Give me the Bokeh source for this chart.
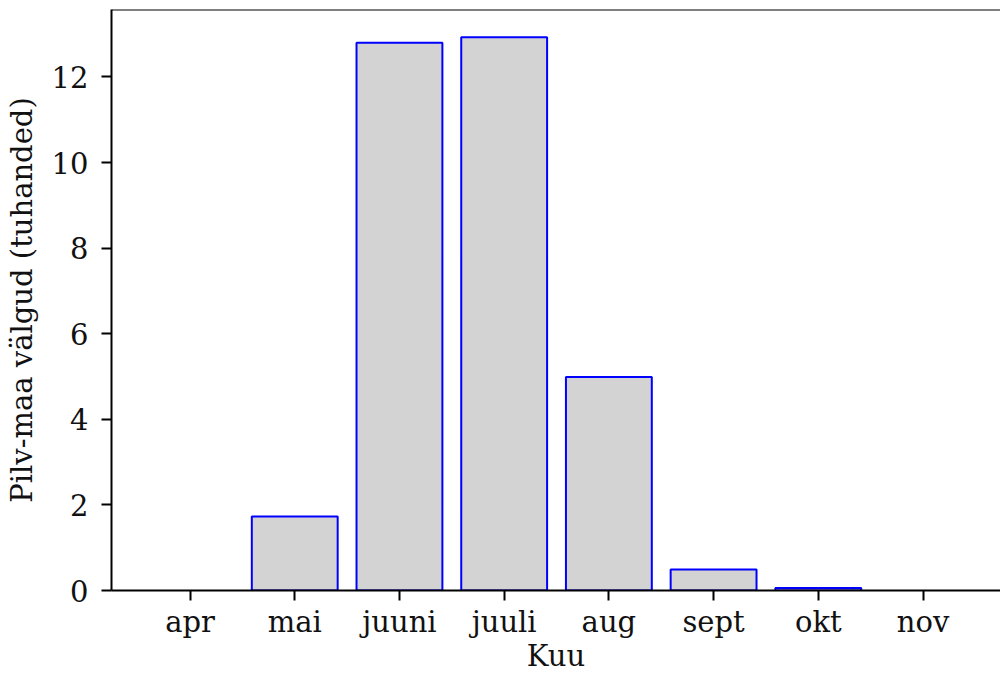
from bokeh.plotting import figure
from bokeh.models import Range1d, FixedTicker, Span, ColumnDataSource
from bokeh.embed import file_html
from bokeh.resources import INLINE

months = ["apr", "mai", "juuni", "juuli", "aug", "sept", "okt", "nov"]
strikes = [0.0, 1.73, 12.80, 12.93, 4.99, 0.49, 0.06, 0.0]
y_ticks = [0, 2, 4, 6, 8, 10, 12]
x_label = "Kuu"
y_label = "Pilv-maa välgud (tuhanded)"

FONT = "DejaVu Serif"
FS = "29px"

idx = list(range(len(months)))
y_end = max(strikes) * 1.05
edge = ["blue" if v > 0 else None for v in strikes]

src = ColumnDataSource(dict(x=idx, top=strikes, edge=edge))

p = figure(width=1000, height=675, output_backend="svg", toolbar_location=None,
           x_range=Range1d(-0.75, 7.74), y_range=Range1d(0, y_end),
           min_border_left=111, min_border_top=9, min_border_right=0, min_border_bottom=0)

p.vbar(x="x", top="top", width=0.82, bottom=0, source=src,
       fill_color="#d3d3d3", line_color="edge", line_width=2)

p.outline_line_color = None
p.add_layout(Span(location=y_end, dimension="width", line_color="black", line_width=2))
p.xgrid.visible = False
p.ygrid.visible = False

p.xaxis.ticker = FixedTicker(ticks=idx)
p.xaxis.major_label_overrides = {i: m for i, m in zip(idx, months)}
p.yaxis.ticker = FixedTicker(ticks=y_ticks)
p.xaxis.axis_label = x_label
p.yaxis.axis_label = y_label

for ax in (p.xaxis, p.yaxis):
    ax.axis_line_color = "black"
    ax.axis_line_width = 2
    ax.major_tick_line_color = "black"
    ax.major_tick_line_width = 2
    ax.major_tick_out = 10
    ax.major_tick_in = 0
    ax.minor_tick_line_color = None
    ax.major_label_text_font = FONT
    ax.major_label_text_font_size = FS
    ax.major_label_text_color = "#111111"
    ax.axis_label_text_font = FONT
    ax.axis_label_text_font_size = FS
    ax.axis_label_text_font_style = "normal"
    ax.axis_label_text_color = "#111111"

p.xaxis.major_label_standoff = 4
p.xaxis.axis_label_standoff = -3
p.yaxis.major_label_standoff = 13
p.yaxis.axis_label_standoff = 10

open("out.html", "w").write(file_html(p, INLINE))
